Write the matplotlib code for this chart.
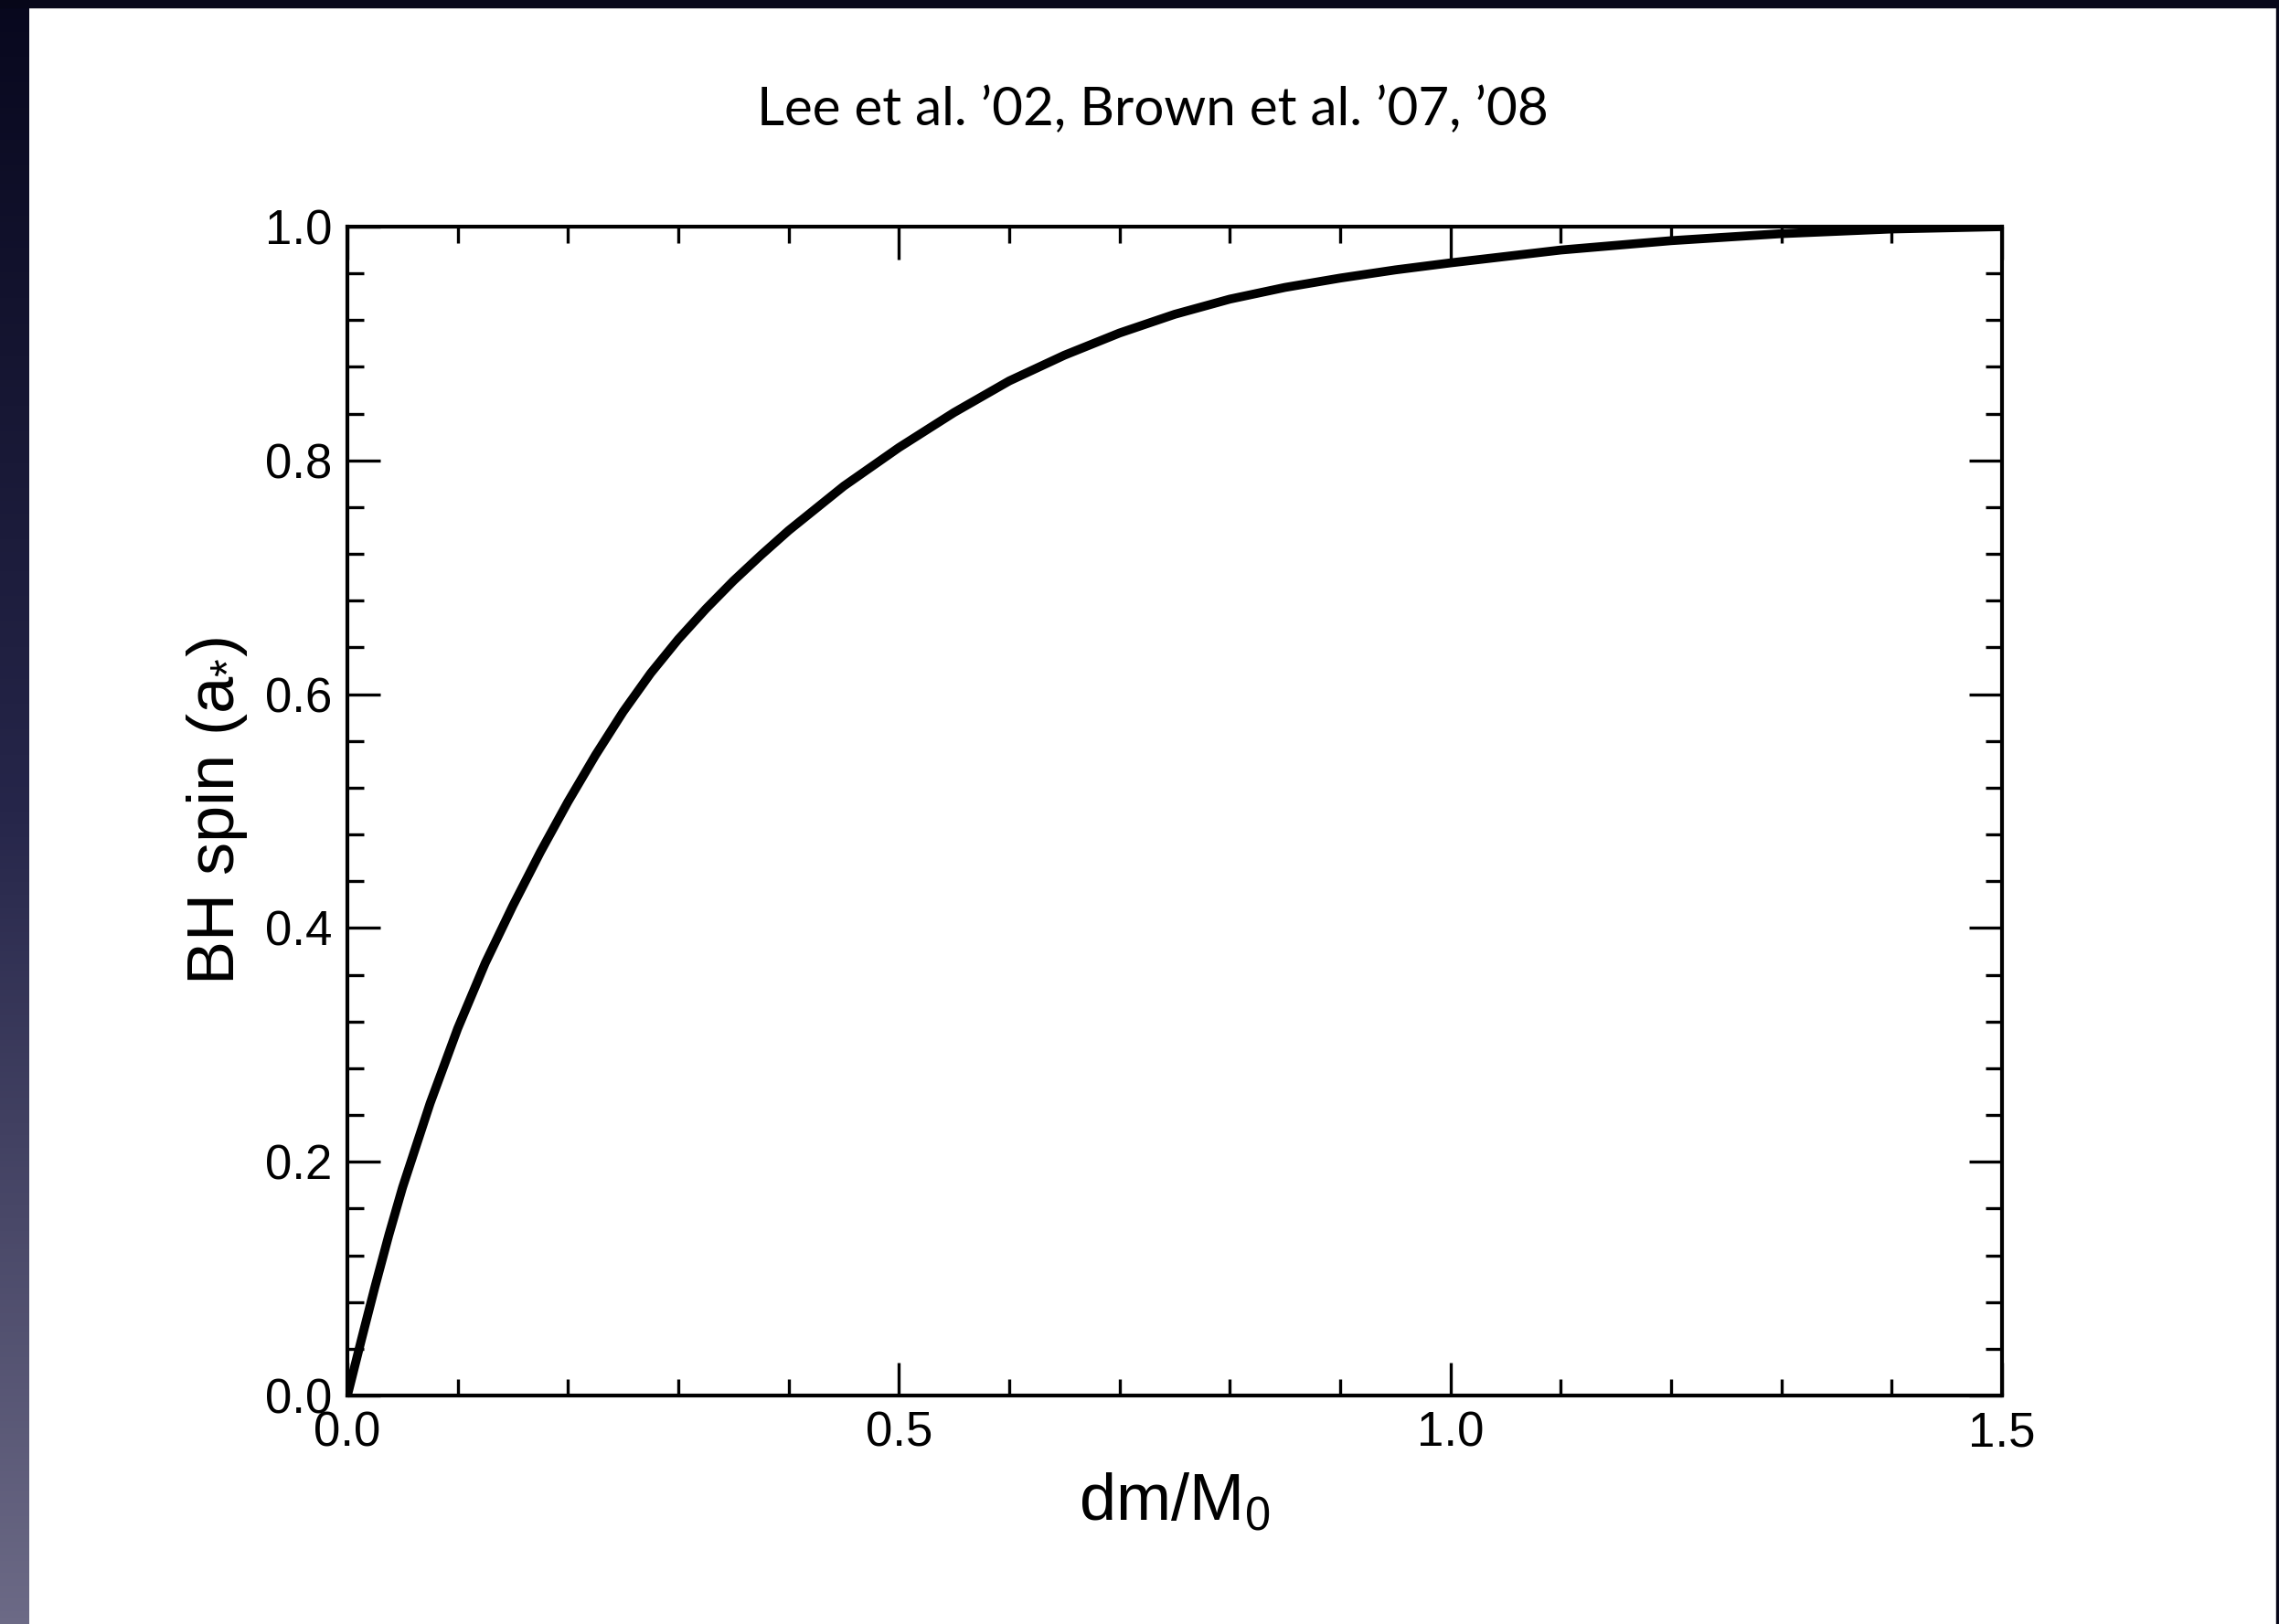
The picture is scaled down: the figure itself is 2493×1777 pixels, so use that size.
#!/usr/bin/env python3
# -*- coding: utf-8 -*-

import numpy as np
import matplotlib
matplotlib.use('Agg')
from matplotlib import pyplot as plt
from matplotlib.patches import Rectangle
from matplotlib.ticker import MultipleLocator

# spin-up curve
dm = [0.0, 0.0125, 0.025, 0.0375, 0.05, 0.075, 0.1, 0.125, 0.15, 0.175, 0.2,
      0.225, 0.25, 0.275, 0.3, 0.325, 0.35, 0.375, 0.4, 0.45, 0.5, 0.55,
      0.6, 0.65, 0.7, 0.75, 0.8, 0.85, 0.9, 0.95, 1.0, 1.1, 1.2, 1.3,
      1.4, 1.5]
spin = [0.0, 0.047, 0.093, 0.137, 0.178, 0.250, 0.314, 0.370, 0.419, 0.465, 0.508,
        0.548, 0.585, 0.618, 0.647, 0.673, 0.697, 0.719, 0.740, 0.778, 0.811, 0.841,
        0.868, 0.890, 0.909, 0.925, 0.938, 0.948, 0.956, 0.963, 0.969, 0.980, 0.988, 0.994,
        0.998, 1.0]

xticks = [0.0, 0.5, 1.0, 1.5]
yticks = [0.0, 0.2, 0.4, 0.6, 0.8, 1.0]
title = 'Lee et al. \u201902, Brown et al. \u201907, \u201908'


def main():
	W, H = 2493, 1777
	fig = plt.figure(figsize=(W / 100, H / 100), dpi=100, facecolor='white')
	plt.rcParams['mathtext.default'] = 'regular'
	plt.rcParams['mathtext.fontset'] = 'custom'
	plt.rcParams['mathtext.rm'] = 'Liberation Sans'

	# slide border: gradient strip on the left, thin dark strips top / right
	bg = fig.add_axes([0, 0, 32 / W, 1])
	bg.axis('off')
	top_c = np.array([8, 8, 30]) / 255
	mid_c = np.array([38, 38, 74]) / 255
	bot_c = np.array([108, 106, 134]) / 255
	t = np.linspace(0, 1, 256)[:, None]
	grad = np.where(t < 0.5, top_c + (mid_c - top_c) * (t / 0.5),
	                mid_c + (bot_c - mid_c) * ((t - 0.5) / 0.5))
	bg.imshow(grad[:, None, :], aspect='auto', extent=[0, 1, 0, 1], origin='upper')
	fig.patches.append(Rectangle((0, 1 - 8 / H), 1, 8 / H, transform=fig.transFigure,
	                             color='#070719', zorder=0))
	fig.patches.append(Rectangle((1 - 3 / W, 0), 3 / W, 1, transform=fig.transFigure,
	                             color='#070719', zorder=0))

	ax = fig.add_axes([380 / W, 250 / H, 1810 / W, 1279 / H])
	ax.plot(dm, spin, color='black', lw=7, solid_joinstyle='round')
	ax.set_xlim(0, 1.5)
	ax.set_ylim(0, 1.0)

	ax.xaxis.set_major_locator(MultipleLocator(0.5))
	ax.xaxis.set_minor_locator(MultipleLocator(0.1))
	ax.yaxis.set_major_locator(MultipleLocator(0.2))
	ax.yaxis.set_minor_locator(MultipleLocator(0.04))
	ax.set_xticks(xticks)
	ax.set_xticklabels(['%.1f' % v for v in xticks])
	ax.set_yticks(yticks)
	ax.set_yticklabels(['%.1f' % v for v in yticks])

	for s in ax.spines.values():
		s.set_linewidth(3)
	ax.tick_params(which='both', direction='in', top=True, right=True, width=2.4)
	ax.tick_params(which='major', length=26, pad=12, labelsize=38)
	ax.tick_params(which='minor', length=13)
	for lab in ax.get_xticklabels() + ax.get_yticklabels():
		lab.set_fontfamily('Liberation Sans')

	ax.set_xlabel('dm/M$_0$', fontsize=52, family='Liberation Sans', labelpad=12)
	ax.set_ylabel('BH spin (a$_{\\text{*}}$)', fontsize=52, family='Liberation Sans', labelpad=12)

	fig.text(1261 / W, 1 - 121 / H, title, ha='center', va='center',
	         fontsize=42, family='Lato')

	fig.savefig('out.png', dpi=100, facecolor='white')

if __name__ == "__main__":
	main()
